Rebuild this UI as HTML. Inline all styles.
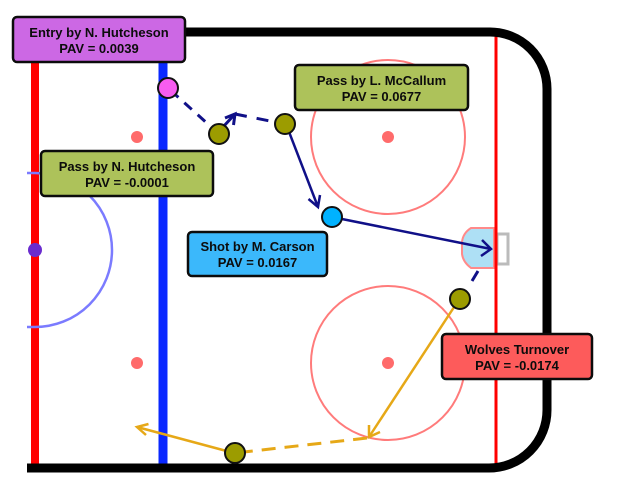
<!DOCTYPE html>
<html>
<head>
<meta charset="utf-8">
<style>
  html,body{margin:0;padding:0;background:#fff;}
  svg{display:block;}
  text{font-family:"Liberation Sans",Arial,sans-serif;font-weight:bold;font-size:13px;fill:#0c0c0c;text-anchor:middle;}
</style>
</head>
<body>
<svg width="624" height="499" viewBox="0 0 624 499" xmlns="http://www.w3.org/2000/svg">
  <!-- rink lines -->
  <line x1="35" y1="32" x2="35" y2="468" stroke="#ff0000" stroke-width="8"/>
  <line x1="163" y1="32" x2="163" y2="468" stroke="#0a28ff" stroke-width="9"/>
  <line x1="496" y1="32" x2="496" y2="468" stroke="#ff0000" stroke-width="3"/>

  <!-- faceoff circles -->
  <circle cx="388" cy="137" r="77" fill="none" stroke="#ff7b7b" stroke-width="2"/>
  <circle cx="388" cy="363" r="77" fill="none" stroke="#ff7b7b" stroke-width="2"/>
  <circle cx="388" cy="137" r="6" fill="#ff6b6b"/>
  <circle cx="388" cy="363" r="6" fill="#ff6b6b"/>
  <circle cx="137" cy="137" r="6" fill="#ff6b6b"/>
  <circle cx="137" cy="363" r="6" fill="#ff6b6b"/>

  <!-- center circle half -->
  <path d="M27 173 L35 173 A77 77 0 0 1 35 327 L27 327" fill="none" stroke="#7b7bff" stroke-width="2.5"/>
  <circle cx="35" cy="250" r="7" fill="#6a2ccf"/>

  <!-- boards -->
  <path d="M27 32 L490 32 A57 57 0 0 1 547 89 L547 410 A58 58 0 0 1 489 468 L27 468" fill="none" stroke="#000" stroke-width="9"/>

  <!-- crease and net -->
  <path d="M471 228 L494 228 L494 268 L471 268 Q463 262 462 254 L462 242 Q463 233 471 228 Z" fill="#aee0f5" stroke="#ff8a8a" stroke-width="2"/>
  <rect x="497" y="234" width="11" height="30" fill="none" stroke="#bbbbbb" stroke-width="3"/>
  <line x1="496" y1="226" x2="496" y2="270" stroke="#ff0000" stroke-width="3"/>

  <!-- navy connectors -->
  <line x1="168" y1="88" x2="219" y2="134" stroke="#101088" stroke-width="3" stroke-dasharray="10 8" stroke-dashoffset="-4"/>
  <line x1="223" y1="127" x2="235" y2="114" stroke="#101088" stroke-width="3"/>
  <polyline points="225,118 235,114 233.5,125" fill="none" stroke="#101088" stroke-width="3"/>
  <line x1="235" y1="114" x2="285" y2="124" stroke="#101088" stroke-width="3" stroke-dasharray="12 10"/>
  <line x1="286" y1="124" x2="318" y2="207" stroke="#101088" stroke-width="2.5"/>
  <polyline points="308.5,199 318,207 320,195" fill="none" stroke="#101088" stroke-width="2.5"/>
  <line x1="332" y1="217" x2="491" y2="249" stroke="#101088" stroke-width="2.5"/>
  <polyline points="482,240 491,249 481,256" fill="none" stroke="#101088" stroke-width="2.5"/>
  <line x1="472" y1="281" x2="478" y2="271" stroke="#101088" stroke-width="3"/>

  <!-- orange connectors -->
  <line x1="460" y1="298" x2="369" y2="437" stroke="#e6a817" stroke-width="2.5"/>
  <polyline points="369,425 369,437 380,432" fill="none" stroke="#e6a817" stroke-width="2.5"/>
  <line x1="367" y1="438" x2="244" y2="452" stroke="#e6a817" stroke-width="3" stroke-dasharray="14 9"/>
  <line x1="234" y1="453" x2="137" y2="427" stroke="#e6a817" stroke-width="2.5"/>
  <polyline points="148.5,424 137,427 146,435" fill="none" stroke="#e6a817" stroke-width="2.5"/>

  <!-- nodes -->
  <circle cx="168" cy="88" r="10" fill="#f75cf0" stroke="#111" stroke-width="2"/>
  <circle cx="219" cy="134" r="10" fill="#9c9c00" stroke="#111" stroke-width="2"/>
  <circle cx="285" cy="124" r="10" fill="#9c9c00" stroke="#111" stroke-width="2"/>
  <circle cx="332" cy="217" r="10" fill="#00b2ff" stroke="#111" stroke-width="2"/>
  <circle cx="460" cy="299" r="10" fill="#9c9c00" stroke="#111" stroke-width="2"/>
  <circle cx="235" cy="453" r="10" fill="#9c9c00" stroke="#111" stroke-width="2"/>

  <!-- labels -->
  <rect x="13" y="17" width="172" height="45" rx="4" fill="#cc68e4" stroke="#0c0c0c" stroke-width="2.5"/>
  <text x="99" y="37">Entry by N. Hutcheson</text>
  <text x="99" y="53">PAV = 0.0039</text>

  <rect x="295" y="65" width="173" height="45" rx="4" fill="#adc25a" stroke="#0c0c0c" stroke-width="2.5"/>
  <text x="381.5" y="85">Pass by L. McCallum</text>
  <text x="381.5" y="101">PAV = 0.0677</text>

  <rect x="41" y="151" width="172" height="45" rx="4" fill="#adc25a" stroke="#0c0c0c" stroke-width="2.5"/>
  <text x="127" y="171">Pass by N. Hutcheson</text>
  <text x="127" y="187">PAV = -0.0001</text>

  <rect x="188" y="232" width="139" height="44" rx="4" fill="#3bb8fb" stroke="#0c0c0c" stroke-width="2.5"/>
  <text x="257.5" y="251">Shot by M. Carson</text>
  <text x="257.5" y="267">PAV = 0.0167</text>

  <rect x="442" y="334" width="150" height="45" rx="4" fill="#fd5b5b" stroke="#0c0c0c" stroke-width="2.5"/>
  <text x="517" y="354">Wolves Turnover</text>
  <text x="517" y="370">PAV = -0.0174</text>
</svg>
</body>
</html>
